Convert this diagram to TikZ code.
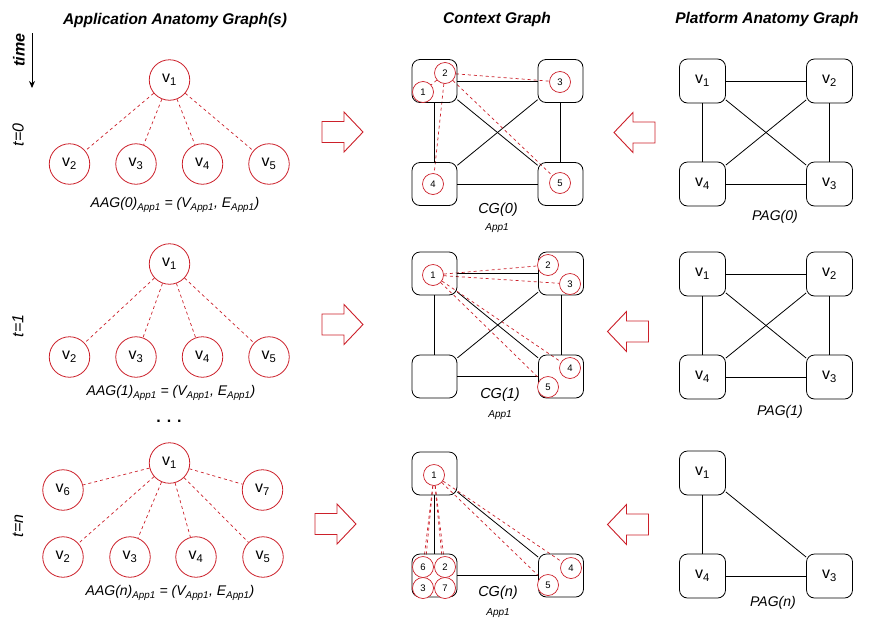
\documentclass[tikz,border=0pt]{standalone}
\usepackage{fontspec}
\setmainfont{Liberation Sans}
\usetikzlibrary{arrows.meta,backgrounds}
\definecolor{ared}{RGB}{204,32,42}
\newcommand\vv[1]{v\textsubscript{#1}}
\newcommand\aagl[1]{AAG(#1)\textsubscript{App1} = (V\textsubscript{App1}, E\textsubscript{App1})}
\tikzset{
  aag/.style={circle, draw=ared, line width=0.8pt, fill=white, minimum size=40.5pt, inner sep=0pt, font=\fontsize{16}{18}\selectfont},
  cbox/.style={draw, rounded corners=8pt, minimum width=45pt, minimum height=43pt, inner sep=0pt, line width=0.8pt},
  pbox/.style={cbox, minimum width=46pt, minimum height=44pt, font=\fontsize{16}{18}\selectfont},
  sc/.style={circle, draw=ared, line width=0.7pt, fill=white, minimum size=21pt, inner sep=0pt, font=\fontsize{9.5}{10}\selectfont},
  rdash/.style={draw=ared, dash pattern=on 3pt off 3pt, line width=0.7pt},
  blk/.style={draw, line width=0.8pt},
  ttl/.style={font=\fontsize{15.5}{18}\selectfont\bfseries\itshape},
  lab/.style={font=\fontsize{14}{16}\selectfont\itshape},
  cglab/.style={font=\fontsize{14.5}{16}\selectfont\itshape},
  sublab/.style={font=\fontsize{10}{12}\selectfont\itshape},
  tlab/.style={font=\fontsize{16}{18}\selectfont\itshape, rotate=90},
  bigarrow/.style={draw=ared, line width=0.9pt, fill=white},
  rarr/.pic={\draw[bigarrow] (-20.5,-10.5) -- (1.5,-10.5) -- (1.5,-20) -- (20.5,0) -- (1.5,20) -- (1.5,10.5) -- (-20.5,10.5) -- cycle;},
  larr/.pic={\draw[bigarrow] (20.5,-10.5) -- (-1.5,-10.5) -- (-1.5,-20) -- (-20.5,0) -- (-1.5,20) -- (-1.5,10.5) -- (20.5,10.5) -- cycle;}
}
\begin{document}
\begin{tikzpicture}[x=1pt,y=-1pt]
\useasboundingbox (0,0) rectangle (877,627);
\begin{scope}[on background layer]
\fill[white] (0,0) rectangle (877,627);
\end{scope}

% titles
\node[ttl] (t1) at (175,20) {Application Anatomy Graph(s)};
\node[ttl] (t2) at (497,19) {Context Graph};
\node[ttl] (t3) at (767,19) {Platform Anatomy Graph};

% time arrow
\node[tlab, font=\fontsize{16}{18}\selectfont\bfseries\itshape] (time) at (19,50) {time};
\coordinate (ta) at (32,33);
\coordinate (tb) at (32,88);
\draw[line width=1pt, -{Stealth[length=7pt,width=6pt]}] (ta) -- (tb);

\node[tlab] (tz) at (18,135) {t=0};
\node[tlab] (to) at (18,326) {t=1};
\node[tlab] (tn) at (18,526) {t=n};

% ===== AAG row 0 =====
\node[aag] (a0v1) at (169.5,80) {\vv1};
\node[aag] (a0v2) at (69.5,164) {\vv2};
\node[aag] (a0v3) at (136,164) {\vv3};
\node[aag] (a0v4) at (202.5,164) {\vv4};
\node[aag] (a0v5) at (269,164) {\vv5};
\foreach \k in {2,3,4,5} {\draw[rdash] (a0v1) -- (a0v\k);}
\node[lab] (a0l) at (175,205) {\aagl{0}};

% ===== AAG row 1 =====
\node[aag] (a1v1) at (169.5,264) {\vv1};
\node[aag] (a1v2) at (69.5,357) {\vv2};
\node[aag] (a1v3) at (136,357) {\vv3};
\node[aag] (a1v4) at (202.5,357) {\vv4};
\node[aag] (a1v5) at (269,357) {\vv5};
\foreach \k in {2,3,4,5} {\draw[rdash] (a1v1) -- (a1v\k);}
\node[lab] (a1l) at (171,393) {\aagl{1}};

\node[font=\fontsize{16}{18}\selectfont\bfseries] (dots) at (169,421) {. . .};

% ===== AAG row n =====
\node[aag] (anv1) at (169.5,463) {\vv1};
\node[aag] (anv6) at (63,490) {\vv6};
\node[aag] (anv7) at (262.5,490) {\vv7};
\node[aag] (anv2) at (63,557) {\vv2};
\node[aag] (anv3) at (130,557) {\vv3};
\node[aag] (anv4) at (196,557) {\vv4};
\node[aag] (anv5) at (263,557) {\vv5};
\foreach \k in {2,3,4,5,6,7} {\draw[rdash] (anv1) -- (anv\k);}
\node[lab] (anl) at (170,593) {\aagl{n}};

% ===== big arrows =====
\pic at (342.5,132) {rarr};
\pic at (342.5,324.5) {rarr};
\pic at (335.5,524) {rarr};
\pic at (634.5,132.5) {larr};
\pic at (628,331.5) {larr};
\pic at (628,524.5) {larr};

% ===== CG row 0 =====
\node[cbox] (c0tl) at (434.5,81) {};
\node[cbox] (c0tr) at (560.5,81) {};
\node[cbox] (c0bl) at (434.5,184) {};
\node[cbox] (c0br) at (560.5,184) {};
\node[sc] (c0n1) at (423,92) {1};
\node[sc] (c0n2) at (445,73) {2};
\node[sc] (c0n3) at (560,82) {3};
\node[sc] (c0n4) at (433,184) {4};
\node[sc] (c0n5) at (560,183) {5};
\begin{scope}[on background layer]
\draw[blk] (c0tl) -- (c0tr);
\draw[blk] (c0tl) -- (c0bl);
\draw[blk] (c0tr) -- (c0br);
\draw[blk] (c0bl) -- (c0br);
\draw[blk] (c0tl) -- (c0br);
\draw[blk] (c0tr) -- (c0bl);
\draw[rdash] (c0n2) -- (c0n1);
\draw[rdash] (c0n2) -- (c0n3);
\draw[rdash] (c0n2) -- (c0n4);
\draw[rdash] (c0n2) -- (c0n5);
\end{scope}
\node[cglab] (c0l) at (498,210) {CG(0)};
\node[sublab] (c0s) at (497,228) {App1};

% ===== CG row 1 =====
\node[cbox] (c1tl) at (434.5,273.5) {};
\node[cbox] (c1tr) at (561,273.5) {};
\node[cbox] (c1bl) at (434.5,376.5) {};
\node[cbox] (c1br) at (561,376.5) {};
\node[sc] (c1n1) at (433,275) {1};
\node[sc] (c1n2) at (548,265) {2};
\node[sc] (c1n3) at (570,284) {3};
\node[sc] (c1n4) at (570,368) {4};
\node[sc] (c1n5) at (548,387) {5};
\begin{scope}[on background layer]
\draw[blk] (c1tl) -- (c1tr);
\draw[blk] (c1tl) -- (c1bl);
\draw[blk] (c1tr) -- (c1br);
\draw[blk] (c1bl) -- (c1br);
\draw[blk] (c1tl) -- (c1br);
\draw[blk] (c1tr) -- (c1bl);
\foreach \k in {2,3,4,5} {\draw[rdash] (c1n1) -- (c1n\k);}
\end{scope}
\node[cglab] (c1l) at (500,395) {CG(1)};
\node[sublab] (c1s) at (500,415) {App1};

% ===== CG row n =====
\node[cbox] (cntl) at (434.5,473.5) {};
\node[cbox] (cnbl) at (434.5,575.5) {};
\node[cbox] (cnbr) at (561,575.5) {};
\node[sc] (cnn1) at (434,475) {1};
\node[sc] (cnn6) at (423,567) {6};
\node[sc] (cnn2) at (445,567) {2};
\node[sc] (cnn3) at (423,588) {3};
\node[sc] (cnn7) at (445,588) {7};
\node[sc] (cnn4) at (571,568) {4};
\node[sc] (cnn5) at (548,585) {5};
\begin{scope}[on background layer]
\draw[blk] (cntl) -- (cnbl);
\draw[blk] (cnbl) -- (cnbr);
\draw[blk] (cntl) -- (cnbr);
\foreach \k in {2,3,4,5,6,7} {\draw[rdash] (cnn1) -- (cnn\k);}
\end{scope}
\node[cglab] (cnl) at (498,593) {CG(n)};
\node[sublab] (cns) at (498,613) {App1};

% ===== PAG row 0 =====
\node[pbox] (p0v1) at (702.5,81) {\vv1};
\node[pbox] (p0v2) at (829.5,81) {\vv2};
\node[pbox] (p0v4) at (702.5,184) {\vv4};
\node[pbox] (p0v3) at (829.5,184) {\vv3};
\draw[blk] (p0v1) -- (p0v2);
\draw[blk] (p0v1) -- (p0v4);
\draw[blk] (p0v2) -- (p0v3);
\draw[blk] (p0v4) -- (p0v3);
\draw[blk] (p0v1) -- (p0v3);
\draw[blk] (p0v2) -- (p0v4);
\node[lab] (p0l) at (775,217) {PAG(0)};

% ===== PAG row 1 =====
\node[pbox] (p1v1) at (702.5,274) {\vv1};
\node[pbox] (p1v2) at (829.5,274) {\vv2};
\node[pbox] (p1v4) at (702.5,377) {\vv4};
\node[pbox] (p1v3) at (829.5,377) {\vv3};
\draw[blk] (p1v1) -- (p1v2);
\draw[blk] (p1v1) -- (p1v4);
\draw[blk] (p1v2) -- (p1v3);
\draw[blk] (p1v4) -- (p1v3);
\draw[blk] (p1v1) -- (p1v3);
\draw[blk] (p1v2) -- (p1v4);
\node[lab] (p1l) at (780,412) {PAG(1)};

% ===== PAG row n =====
\node[pbox] (pnv1) at (702.5,473) {\vv1};
\node[pbox] (pnv4) at (702.5,576) {\vv4};
\node[pbox] (pnv3) at (829.5,576) {\vv3};
\draw[blk] (pnv1) -- (pnv4);
\draw[blk] (pnv4) -- (pnv3);
\draw[blk] (pnv1) -- (pnv3);
\node[lab] (pnl) at (773,603) {PAG(n)};
\end{tikzpicture}
\end{document}
